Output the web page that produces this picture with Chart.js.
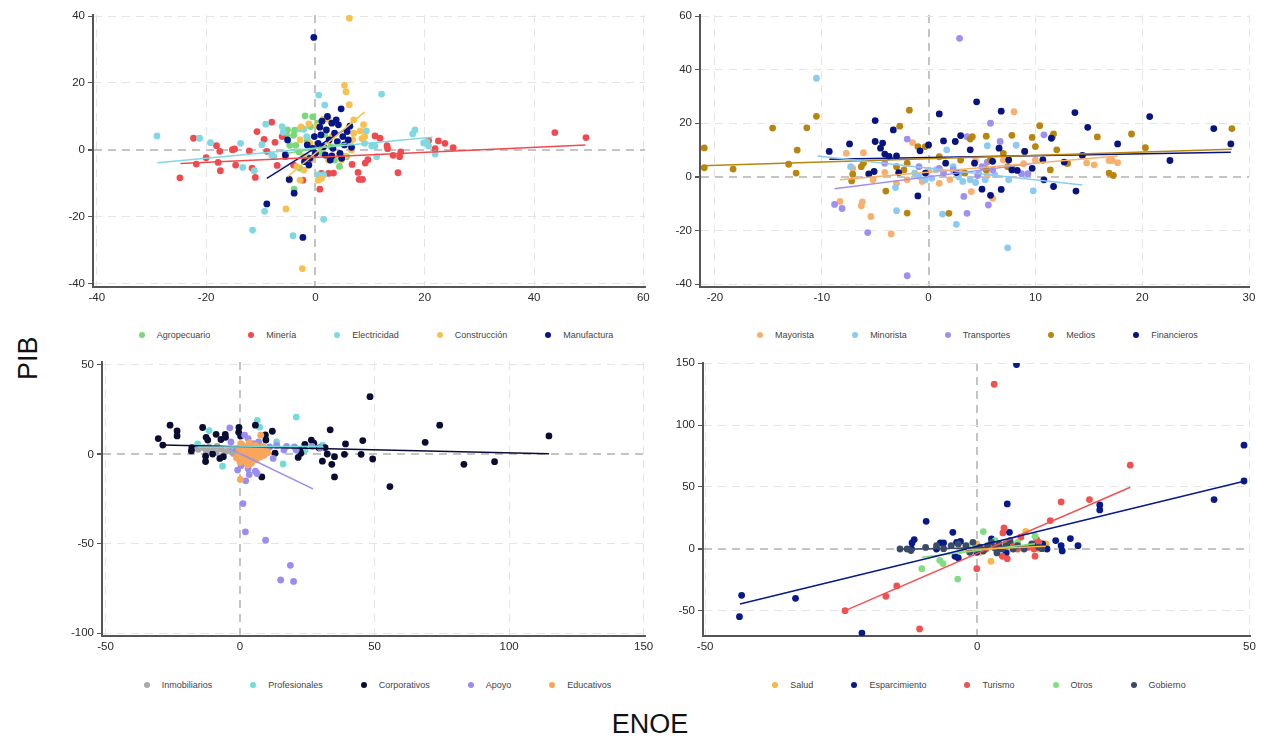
<!DOCTYPE html>
<html lang="es">
<head>
<meta charset="UTF-8">
<title>PIB vs ENOE por sector</title>
<script src="https://cdn.jsdelivr.net/npm/chart.js"></script>
<style>
  body { margin: 0; width: 1262px; height: 739px; background: #fff; font-family: "Liberation Sans", Arial, sans-serif; position: relative; overflow: hidden; }
  .panel { position: absolute; }
  .legend { position: absolute; display: flex; justify-content: center; gap: 38px; font-size: 9px; color: #444; }
  .legend span.item { display: flex; align-items: center; }
  .legend i { display: inline-block; width: 6px; height: 6px; border-radius: 50%; margin-right: 12px; }
  #ylab { position: absolute; left: 8px; top: 345px; width: 40px; height: 30px; font-size: 27px; color: #111; transform: rotate(-90deg); text-align: center; }
  #xlab { position: absolute; left: 600px; top: 709px; width: 100px; font-size: 27px; color: #111; text-align: center; }
</style>
</head>
<body>

<div class="panel" style="left:53px; top:5px; width:607px; height:310px;"><canvas id="c1"></canvas></div>
<div class="panel" style="left:660px; top:5px; width:600px; height:310px;"><canvas id="c2"></canvas></div>
<div class="panel" style="left:62px; top:352px; width:598px; height:312px;"><canvas id="c3"></canvas></div>
<div class="panel" style="left:663px; top:353px; width:597px; height:311px;"><canvas id="c4"></canvas></div>

<div class="legend" id="l1" style="left:100px; width:552px; top:330px;"></div>
<div class="legend" id="l2" style="left:703px; width:549px; top:330px;"></div>
<div class="legend" id="l3" style="left:106px; width:543px; top:680px;"></div>
<div class="legend" id="l4" style="left:706px; width:546px; top:680px;"></div>

<div id="ylab">PIB</div>
<div id="xlab">ENOE</div>

<script>
// ---- Panel 1: sectores primarios / industriales ----
const agropecuario = [[-5.1,6.0],[-3.8,5.9],[-4.0,4.4],[-3.6,1.4],[-3.0,-0.6],[-1.9,10.2],[-0.5,9.9],[-0.9,7.0],[0.4,8.0],[-1.5,3.0],[-3.9,-11.7],[-2.9,-5.4],[4.4,-4.9],[5.7,-2.0],[1.1,-0.8],[1.7,4.6],[-4.7,1.4],[-5.3,4.4],[2.8,1.0],[3.5,-3.0]];
const mineria = [[-24.8,-8.3],[-22.3,3.5],[-21.8,-4.2],[-20,-2.3],[-18.1,1.3],[-17.8,-3.7],[-17.5,-0.4],[-17.4,-6.2],[-15.2,0.1],[-14.8,0.3],[-14.6,-4.5],[-12.1,-0.3],[-11.6,-5.4],[-11.0,-8.2],[-10.7,5.5],[-9.4,3.2],[-8.9,-0.4],[-8.0,8.3],[-7.4,2.3],[-7.0,-4.6],[-6.1,4.0],[-5.5,-2.0],[-4.0,-4.5],[-2.3,-9.0],[0.8,-11.7],[1.1,-7.0],[2.4,-7.0],[3.3,-6.9],[6.7,-4.3],[7.8,-6.7],[8.0,-8.8],[8.6,-8.8],[9.1,-3.9],[9.6,-2.9],[10.9,4.2],[11.8,3.5],[13.1,1.3],[13.2,0.4],[14.2,-1.6],[15.6,-0.6],[15.4,-2.0],[15.1,-6.8],[20.7,2.8],[21.9,0.4],[22.5,2.7],[23.7,2.0],[25.2,0.7],[43.8,5.2],[49.5,3.7]];
const electricidad = [[-29.0,4.2],[-21.2,3.5],[-19.2,2.2],[-13.7,2.0],[-13.3,-5.2],[-11.5,-23.9],[-11.2,-6.2],[-9.8,1.6],[-9.3,-18.3],[-9.1,7.7],[-8.0,-1.5],[-7.6,-2.0],[-6.1,7.0],[-5.9,5.3],[-4.1,-25.6],[-2.8,6.3],[-2.1,6.2],[-1.6,4.0],[-1.5,-2.0],[0.5,-7.4],[0.6,16.4],[1.5,-20.7],[1.5,-7.4],[1.7,13.4],[9.3,5.7],[9.0,2.0],[10.3,1.2],[10.9,1.2],[11.2,-2.0],[12.1,16.7],[17.8,4.8],[18.2,6.0],[19.8,2.1],[20.7,1.2],[21.9,-1.2],[20.4,2.4]];
const construccion = [[6.2,39.3],[5.3,19.3],[5.6,17.4],[6.2,13.5],[7.0,9.0],[2.4,9.2],[1.4,9.2],[0.4,7.2],[-1.2,7.8],[8.8,7.6],[8.2,5.7],[9.0,4.0],[8.5,3.4],[6.8,3.1],[4.8,-2.9],[5.4,-1.9],[-5.4,-17.6],[-2.4,-35.4],[-3.4,-5.0],[-2.1,-6.0],[-2.8,-9.0],[-4.7,-9.0],[0.5,-9.0],[1.1,-8.5],[-0.8,-3.0],[-0.2,-1.5],[-2.1,-2.0],[2.4,-3.0],[4.3,-1.5],[6.3,2.0],[7.0,5.0],[6.6,0.0],[-2.6,6.9],[-2.8,3.0],[3.0,4.0],[1.0,1.0],[-1.0,2.0]];
const manufactura = [[-0.3,33.6],[4.7,12.3],[-8.9,-16.1],[-2.3,-26.1],[-3.9,-12.9],[-4.8,-8.8],[-5.5,-1.4],[-5.1,3.0],[6.3,7.1],[6.6,0.8],[0.5,2.0],[1.0,4.5],[1.5,1.0],[2.0,6.0],[2.5,3.0],[3.0,8.0],[3.2,0.5],[3.5,5.0],[4.0,2.5],[4.2,7.5],[4.5,-1.0],[5.0,4.0],[5.3,1.5],[5.8,5.5],[0.0,-1.0],[-0.5,0.5],[-1.0,-2.5],[-1.5,1.5],[-2.0,-3.5],[1.8,-1.5],[2.7,-3.0],[3.8,9.0],[0.8,6.8],[-0.2,4.0],[2.2,10.0],[6.0,3.0],[4.8,-2.5],[-1.2,-4.5],[3.0,-1.8],[1.2,8.6]];
// rectas de ajuste (extremos)
const fitAgropecuario = [[-5.1,-1.0],[5.7,2.0]];
const fitMineria = [[-24.7,-4.0],[49.4,1.5]];
const fitElectricidad = [[-28.9,-3.8],[21.4,3.8]];
const fitConstruccion = [[-5.1,-8.0],[9.0,11.4]];
const fitManufactura = [[-8.9,-8.5],[6.7,7.5]];

// ---- Panel 2: comercio, transporte, medios, financieros ----
const mayorista = [[-8.3,-9.2],[-7.7,8.8],[-7.1,3.2],[-6.3,-10.8],[-6.1,9.0],[-6.2,-9.3],[-5.4,-14.8],[-5.2,-1.1],[-4.1,1.7],[-3.5,-21.3],[-3.0,-2.4],[-2.0,-1.1],[-1.5,12.8],[-0.6,-1.7],[1.0,-2.4],[3.0,1.4],[4.0,-5.5],[4.4,6.1],[6.0,-8.0],[7.0,6.3],[8.0,24.3],[8.9,4.9],[10.0,6.3],[13.0,5.0],[14.8,5.2],[15.5,4.5],[16.9,6.1],[17.2,6.1],[17.7,5.3],[2.0,-1.0],[5.5,0.5],[0.0,2.5]];
const minorista = [[-10.5,36.8],[-7.3,3.8],[-3.1,-4.0],[-3.0,-12.6],[-1.3,1.4],[-0.9,0.2],[-0.3,-1.1],[0.7,2.6],[1.3,-13.9],[1.7,10.1],[2.3,3.8],[2.6,-17.7],[3.2,-1.7],[3.9,-1.1],[4.4,-2.1],[4.7,1.4],[5.3,-1.1],[5.5,11.6],[7.4,-26.5],[7.5,-1.1],[8.2,11.8],[9.8,-5.2],[6.2,0.8],[2.8,0.0],[0.3,-0.5]];
const transportes = [[2.9,51.7],[-8.8,-10.3],[-8.1,-11.8],[-5.7,-20.8],[-2.0,-36.9],[-2.0,14.1],[3.3,-7.3],[3.6,-13.6],[5.6,-10.5],[5.8,20.0],[6.7,13.2],[8.7,1.2],[9.3,1.2],[10.8,15.7],[3.6,15.0],[-4.1,5.1],[1.0,3.2],[1.4,1.4],[5.0,3.8],[5.3,3.2],[6.0,2.6],[-0.9,3.8],[2.3,2.6],[5.5,5.5],[4.6,0.5]];
const medios = [[-21.0,10.8],[-21.0,3.4],[-18.3,2.9],[-14.6,18.2],[-13.1,4.7],[-12.4,1.4],[-12.3,10.0],[-11.4,18.3],[-10.5,22.6],[-7.1,1.0],[-7.2,-1.5],[-6.3,3.8],[-6.1,5.1],[-4.0,-5.3],[-3.0,3.8],[-2.7,18.9],[-2.3,2.6],[-2.0,5.1],[-2.0,-13.5],[-1.8,24.9],[-1.0,11.3],[-0.3,11.3],[1.0,7.5],[1.9,-13.6],[3.0,6.3],[3.4,1.4],[3.9,14.1],[4.1,15.0],[5.4,15.2],[5.4,2.6],[5.8,6.3],[7.0,8.8],[7.4,3.8],[7.8,15.5],[7.8,3.2],[9.0,9.5],[9.7,14.7],[10.0,11.3],[10.4,19.1],[11.4,2.6],[11.7,16.0],[11.6,15.0],[12.0,10.1],[13.0,5.0],[15.8,14.9],[16.9,1.4],[17.3,0.5],[19.0,16.0],[20.3,10.9],[28.4,18.0]];
const financieros = [[-9.3,9.5],[-7.4,12.3],[-5.6,1.1],[-5.1,2.0],[-5.0,21.0],[-5.0,13.2],[-4.5,10.7],[-4.3,12.6],[-4.1,8.5],[-3.7,7.6],[-3.3,17.5],[-3.0,7.8],[-2.8,1.6],[-1.0,-7.1],[-0.8,9.7],[-0.3,1.4],[0.0,11.9],[1.0,23.5],[1.4,13.4],[1.6,5.1],[2.5,13.2],[2.6,1.6],[3.0,15.4],[3.9,10.1],[4.3,5.1],[4.5,28.0],[5.0,-4.6],[5.8,-6.9],[6.0,5.8],[6.6,10.7],[6.8,24.5],[6.8,-4.7],[7.5,6.3],[7.8,2.6],[8.3,2.4],[9.0,9.5],[9.7,3.2],[10.7,6.3],[10.8,-1.1],[11.5,14.4],[11.7,-3.6],[12.7,5.5],[13.7,24.0],[13.8,-5.3],[14.4,8.0],[14.9,18.5],[17.7,12.3],[20.7,22.5],[22.6,6.1],[26.7,18.0],[28.3,12.3]];
const fitMayorista = [[-8.3,-1.1],[17.7,7.8]];
const fitMinorista = [[-10.4,7.8],[14.4,-3.0]];
const fitTransportes = [[-8.8,-4.4],[10.8,5.5]];
const fitMedios = [[-21.2,4.1],[28.4,10.3]];
const fitFinancieros = [[-9.3,6.6],[28.3,9.2]];

// ---- Panel 3: servicios ----
const inmobiliarios = [[-17.0,3.5],[-15.5,2.8],[-13.5,3.8],[-11.5,4.0],[-10.0,2.5],[-8.5,4.5],[-7.0,3.0],[-5.5,1.5],[-4.0,2.2],[-12.5,1.8],[-9.0,1.0],[-2.5,0.5],[-1.0,1.5],[0.5,0.0]];
const profesionales = [[-15.7,5.8],[-11.5,13.3],[-6.5,-6.6],[3.0,-4.2],[5.1,-2.3],[6.4,18.9],[7.3,15.2],[9.6,9.6],[13.6,6.9],[16.0,-5.4],[20.9,20.8],[24.2,2.4],[26.8,5.2],[30.7,5.2],[-2.0,3.0],[1.5,0.5],[4.0,2.0]];
const corporativos = [[-30.4,8.8],[-28.7,5.2],[-26.0,16.3],[-23.4,13.1],[-23.4,10.3],[-18.1,1.9],[-17.9,3.8],[-13.9,15.0],[-12.6,9.5],[-12.0,8.0],[-12.8,-1.0],[-12.8,-4.0],[-10.2,0.2],[-8.9,11.2],[-7.1,8.3],[-7.5,-2.3],[-6.2,-1.3],[-5.5,11.2],[-5.4,9.5],[-0.4,15.0],[-0.5,12.3],[0.2,10.3],[5.7,16.3],[8.1,-12.6],[9.4,10.8],[9.6,8.0],[12.0,12.9],[13.0,0.6],[21.6,-1.7],[22.2,2.4],[22.6,0.6],[24.1,5.6],[26.5,8.0],[27.4,6.2],[29.4,3.6],[30.6,-3.8],[31.6,3.8],[32.4,0.2],[33.5,13.7],[34.1,-5.6],[35.1,-1.3],[35.1,-12.6],[38.8,0.0],[39.2,5.8],[45.0,0.0],[45.6,7.7],[48.3,32.2],[49.3,-2.6],[55.7,-18.0],[68.8,6.7],[74.2,16.3],[83.2,-5.6],[94.6,-4.1],[114.8,10.3]];
const apoyo = [[-3.8,14.8],[-3.4,6.9],[-0.9,-8.8],[0.4,-6.3],[1.1,-27.5],[1.2,4.1],[1.7,10.7],[2.0,-43.3],[2.1,-14.8],[3.0,8.8],[3.0,-8.1],[3.4,-11.3],[5.1,6.0],[5.7,-9.4],[6.3,-10.7],[6.9,6.9],[9.5,-48.0],[11.0,4.1],[12.3,-2.3],[13.6,5.0],[15.1,-70.2],[16.3,2.4],[17.3,4.5],[18.7,-62.0],[19.9,-71.0],[20.2,4.1],[20.9,2.4],[26.8,4.5],[29.8,3.6],[0.8,1.5],[2.5,2.5],[4.5,0.5],[7.5,2.0],[-1.5,2.0]];
const educativos = [[0.1,-14.0],[7.7,10.7],[-1.3,-2.0],[-0.5,3.5],[0.0,-4.5],[0.5,1.0],[1.0,5.0],[1.2,-1.5],[1.8,2.5],[2.0,-3.5],[2.5,0.5],[3.0,4.0],[3.2,-2.5],[3.8,1.5],[4.2,-5.0],[4.5,3.0],[5.0,-1.0],[5.5,2.0],[6.0,-3.0],[6.5,0.5],[7.0,3.5],[7.5,-1.5],[8.0,1.0],[8.5,4.5],[9.0,-0.5],[9.5,2.5],[10.3,1.0],[0.3,6.0],[-0.8,0.2],[2.8,-6.0],[1.5,3.5],[3.5,6.5],[5.8,5.0],[4.0,-1.8]];
const fitInmobiliarios = [[-17.0,3.5],[0.5,0.5]];
const fitProfesionales = [[-15.7,4.0],[30.7,4.5]];
const fitCorporativos = [[-28.7,5.2],[114.8,0.4]];
const fitApoyo = [[-3.8,3.1],[27.1,-19.3]];
const fitEducativos = [[-1.3,0.0],[10.3,1.5]];

// ---- Panel 4: otros servicios y gobierno ----
const salud = [[-1.9,0.0],[-0.1,3.8],[0.5,-3.0],[2.5,-10.3],[4.0,2.4],[6.0,-0.3],[8.9,14.0],[10.0,1.1],[11.3,-0.3],[12.6,3.8]];
const esparcimiento = [[-43.7,-55.1],[-43.3,-37.8],[-33.4,-40.2],[-21.2,-68.3],[-12.1,-0.3],[-12.0,4.6],[-11.6,7.3],[-9.4,22.1],[-7.5,-0.3],[-6.8,4.6],[-6.2,4.6],[-4.5,13.2],[-4.1,-6.2],[-3.8,5.1],[-3.5,-7.6],[-3.1,5.9],[-0.1,-3.0],[2.6,7.8],[3.3,2.4],[4.0,-0.3],[5.3,-3.5],[5.5,36.2],[5.9,13.2],[6.0,5.1],[7.2,149],[7.4,2.4],[10.6,2.4],[12.0,3.8],[12.8,-0.3],[14.4,6.5],[15.4,2.4],[15.6,-1.9],[17.1,8.1],[18.5,2.4],[22.5,35.4],[22.5,31.3],[43.5,39.7],[49.0,54.7],[49.0,83.7]];
const turismo = [[-24.3,-50.2],[-16.8,-38.6],[-14.8,-30.2],[-10.6,-65.0],[-0.1,-16.2],[1.6,-0.3],[3.1,133],[3.3,5.1],[4.6,-6.2],[4.7,12.7],[4.9,16.7],[5.5,-8.1],[6.6,2.4],[7.4,-0.3],[8.0,9.2],[9.3,1.1],[10.4,-0.3],[10.6,-6.1],[10.9,7.3],[11.3,5.1],[13.4,22.7],[15.4,37.8],[20.6,39.7],[28.1,67.5]];
const otros = [[-10.2,-16.2],[-6.9,-9.5],[-6.3,-12.1],[-3.6,-24.6],[-3.1,-1.6],[-1.8,2.4],[-0.5,-0.3],[1.1,13.8],[3.3,6.5],[5.3,5.1],[7.4,5.1],[10.6,10.0]];
const gobierno = [[-14.2,-0.3],[-12.9,-0.3],[-12.2,-1.6],[-7.5,2.4],[-6.2,0.0],[-4.8,2.4],[-3.5,3.8],[-2.1,2.4],[-0.8,5.1],[-0.1,-0.3],[0.5,1.1],[1.1,-2.0],[1.9,2.4],[2.6,5.1],[3.2,0.5],[4.0,3.8],[4.6,-0.3],[5.3,2.4],[6.0,6.5],[6.6,-0.3],[7.4,2.4],[8.6,-0.3],[10.0,3.8],[11.3,1.1],[11.9,0.0],[-9.5,1.0],[-1.4,-3.0],[3.6,-3.5]];
const fitSalud = [[-1.9,-1.0],[12.6,2.0]];
const fitEsparcimiento = [[-43.6,-44.8],[49.0,54.5]];
const fitTurismo = [[-24.3,-50.2],[28.1,49.7]];
const fitOtros = [[-10.2,-7.0],[10.6,4.0]];
const fitGobierno = [[-14.2,-0.5],[11.9,1.5]];

// ticks
const xTicks1 = [-40, -20, 0, 20, 40, 60], yTicks1 = [-40, -20, 0, 20, 40];
const xTicks2 = [-20, -10, 0, 10, 20, 30], yTicks2 = [-40, -20, 0, 20, 40, 60];
const xTicks3 = [-50, 0, 50, 100, 150], yTicks3 = [-100, -50, 0, 50];
const xTicks4 = [-50, 0, 50], yTicks4 = [-50, 0, 50, 100, 150];

const panels = [
  { id: 'c1', legend: 'l1', pad: {top: 10, right: 15},
    x: [-40.7, 60.3], y: [-40.9, 40.3], xt: xTicks1, yt: yTicks1,
    series: [
      ['Agropecuario', agropecuario, fitAgropecuario, '#7ad87a'],
      ['Minería', mineria, fitMineria, '#ef4b4f'],
      ['Electricidad', electricidad, fitElectricidad, '#80d8e2'],
      ['Construcción', construccion, fitConstruccion, '#f8c04e'],
      ['Manufactura', manufactura, fitManufactura, '#06158a']
    ] },
  { id: 'c2', legend: 'l2', pad: {top: 10, right: 11},
    x: [-21.4, 30], y: [-41.1, 60.4], xt: xTicks2, yt: yTicks2,
    series: [
      ['Mayorista', mayorista, fitMayorista, '#f9b06e'],
      ['Minorista', minorista, fitMinorista, '#8ccaf2'],
      ['Transportes', transportes, fitTransportes, '#9e90f0'],
      ['Medios', medios, fitMedios, '#b8860f'],
      ['Financieros', financieros, fitFinancieros, '#07137e']
    ] },
  { id: 'c3', legend: 'l3', pad: {top: 10, right: 15},
    x: [-51.3, 150.5], y: [-101.5, 51.6], xt: xTicks3, yt: yTicks3,
    series: [
      ['Inmobiliarios', inmobiliarios, fitInmobiliarios, '#a9a9a9'],
      ['Profesionales', profesionales, fitProfesionales, '#74dcd8'],
      ['Corporativos', corporativos, fitCorporativos, '#0b0c33'],
      ['Apoyo', apoyo, fitApoyo, '#9b8cf0'],
      ['Educativos', educativos, fitEducativos, '#f9a65c']
    ] },
  { id: 'c4', legend: 'l4', pad: {top: 10, right: 10},
    x: [-50.4, 50.1], y: [-70.7, 150.2], xt: xTicks4, yt: yTicks4,
    series: [
      ['Salud', salud, fitSalud, '#f8b643'],
      ['Esparcimiento', esparcimiento, fitEsparcimiento, '#061a8a'],
      ['Turismo', turismo, fitTurismo, '#f05252'],
      ['Otros', otros, fitOtros, '#82dc82'],
      ['Gobierno', gobierno, fitGobierno, '#3b4a66']
    ] }
];

const toXY = arr => arr.map(([x, y]) => ({x, y}));
const gridColor = ctx => ctx.tick && ctx.tick.value === 0 ? '#c4c4c4' : '#e4e4e4';
const gridWidth = ctx => ctx.tick && ctx.tick.value === 0 ? 2 : 1;

function axis(range, ticks, isY) {
  return {
    type: 'linear',
    min: range[0], max: range[1],
    afterBuildTicks: s => { s.ticks = ticks.map(v => ({value: v})); },
    afterFit: s => {
      if (isY) { s.width = 40; s.paddingTop = 0; s.paddingBottom = 0; }
      else { s.height = 28; s.paddingLeft = 0; s.paddingRight = 0; }
    },
    ticks: { color: '#2a2a2a', font: { family: 'Liberation Sans, Arial', size: 11.5 }, padding: isY ? 3 : 4 },
    grid: { color: gridColor, lineWidth: gridWidth, drawTicks: isY, tickLength: 5, tickColor: '#555', tickBorderDash: [] },
    border: { display: true, color: '#555', width: 2, dash: [8, 6] }
  };
}

panels.forEach(p => {
  const datasets = [];
  p.series.forEach(([name, pts, fit, color], i) => {
    datasets.push({ label: name, data: toXY(pts), backgroundColor: color, borderColor: color,
      pointRadius: 3.4, pointBorderWidth: 0, order: 10 - i });
  });
  p.series.forEach(([name, pts, fit, color]) => {
    datasets.push({ label: name + ' ajuste', data: toXY(fit), borderColor: color, backgroundColor: color,
      showLine: true, pointRadius: 0, borderWidth: 1.5, order: 0 });
  });

  new Chart(document.getElementById(p.id), {
    type: 'scatter',
    data: { datasets },
    options: {
      responsive: true,
      maintainAspectRatio: false,
      animation: false,
      layout: { padding: { top: p.pad.top, right: p.pad.right, left: 0, bottom: 0 } },
      plugins: { legend: { display: false }, tooltip: { enabled: false } },
      scales: { x: axis(p.x, p.xt, false), y: axis(p.y, p.yt, true) }
    }
  });

  // leyenda
  const lg = document.getElementById(p.legend);
  p.series.forEach(([name, , , color]) => {
    const item = document.createElement('span');
    item.className = 'item';
    item.innerHTML = `<i style="background:${color}"></i>${name}`;
    lg.appendChild(item);
  });
});
</script>
</body>
</html>
